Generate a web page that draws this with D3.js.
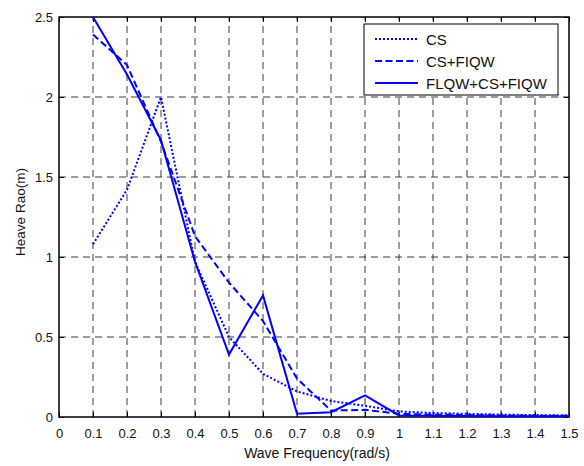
<!DOCTYPE html>
<html><head><meta charset="utf-8">
<script src="https://cdn.jsdelivr.net/npm/d3@7"></script>
<style>body{margin:0;background:#fff}svg{display:block}text{font-family:"Liberation Sans",Arial,sans-serif;}</style>
</head><body>
<script>
const freq = [0.1,0.2,0.3,0.4,0.5,0.6,0.7,0.8,0.9,1.0,1.1,1.2,1.3,1.4,1.5];
const csVals = [1.08,1.42,2.0,0.97,0.5,0.27,0.16,0.1,0.07,0.035,0.025,0.02,0.015,0.012,0.01];
const csFiqwVals = [2.39,2.2,1.72,1.13,0.84,0.6,0.24,0.04,0.045,0.02,0.015,0.012,0.01,0.008,0.007];
const flqwVals = [2.5,2.14,1.73,0.97,0.39,0.76,0.02,0.03,0.135,0.01,0.008,0.006,0.005,0.004,0.004];
const seriesNames = ["CS","CS+FIQW","FLQW+CS+FIQW"];
const xTicks = [0,0.1,0.2,0.3,0.4,0.5,0.6,0.7,0.8,0.9,1,1.1,1.2,1.3,1.4,1.5];
const yTicks = [0,0.5,1,1.5,2,2.5];

const W=584,H=466;
const L=59,R=569,T=17,B=417;
const svg=d3.select("body").append("svg").attr("width",W).attr("height",H);
const x=d3.scaleLinear().domain([0,1.5]).range([L,R]);
const y=d3.scaleLinear().domain([0,2.5]).range([B,T]);

// grid
const g=svg.append("g");
g.selectAll(".vg").data(xTicks.filter(d=>d>0&&d<1.5)).enter().append("line")
 .attr("x1",d=>x(d)).attr("x2",d=>x(d)).attr("y1",B).attr("y2",T)
 .attr("stroke","#3a3a3a").attr("stroke-width",1).attr("stroke-dasharray","7,5");
g.selectAll(".hg").data(yTicks.filter(d=>d>0&&d<2.5)).enter().append("line")
 .attr("x1",L).attr("x2",R).attr("y1",d=>y(d)).attr("y2",d=>y(d))
 .attr("stroke","#3a3a3a").attr("stroke-width",1).attr("stroke-dasharray","7,5");

// axes
const ax=svg.append("g").attr("transform",`translate(0,${B})`)
 .call(d3.axisBottom(x).tickValues(xTicks).tickFormat(d3.format("")).tickSizeInner(-5).tickSizeOuter(0).tickPadding(12));
const ay=svg.append("g").attr("transform",`translate(${L},0)`)
 .call(d3.axisLeft(y).tickValues(yTicks).tickFormat(d3.format("")).tickSizeInner(-5).tickSizeOuter(0).tickPadding(6));
const axT=svg.append("g").attr("transform",`translate(0,${T})`)
 .call(d3.axisTop(x).tickValues(xTicks).tickFormat("").tickSizeInner(-5).tickSizeOuter(0));
const ayR=svg.append("g").attr("transform",`translate(${R},0)`)
 .call(d3.axisRight(y).tickValues(yTicks).tickFormat("").tickSizeInner(-5).tickSizeOuter(0));
[ax,ay,axT,ayR].forEach(a=>{a.select(".domain").remove();a.selectAll("line").attr("stroke","#000");
 a.selectAll("text").attr("font-size",13).attr("fill","#111").attr("font-family","'Liberation Sans',Arial,sans-serif");});

// frame
svg.append("rect").attr("x",L).attr("y",T).attr("width",R-L).attr("height",B-T)
 .attr("fill","none").attr("stroke","#000").attr("stroke-width",1.5);

// series
const styles=[{dash:"2,2"},{dash:"7,3.5"},{dash:null}];
const data=[csVals,csFiqwVals,flqwVals];
const line=d3.line().x((d,i)=>x(freq[i])).y(d=>y(d));
data.forEach((vals,k)=>{
 svg.append("path").datum(vals).attr("d",line).attr("fill","none")
  .attr("stroke","#0000ff").attr("stroke-width",2)
  .attr("stroke-dasharray",styles[k].dash);
});

// legend
const lg=svg.append("g");
lg.append("rect").attr("x",364).attr("y",24).attr("width",194).attr("height",71)
 .attr("fill","#fff").attr("stroke","#000").attr("stroke-width",1);
seriesNames.forEach((n,k)=>{
 const yy=[39,61,83][k];
 lg.append("line").attr("x1",375).attr("x2",418).attr("y1",yy).attr("y2",yy)
  .attr("stroke","#0000ff").attr("stroke-width",2).attr("stroke-dasharray",styles[k].dash);
 lg.append("text").attr("x",426).attr("y",yy+5.5).attr("font-size",15).attr("fill","#111").text(n);
});

// axis labels
svg.append("text").attr("x",317).attr("y",458).attr("text-anchor","middle").attr("font-size",14).attr("fill","#111").text("Wave Frequency(rad/s)");
svg.append("text").attr("transform",`translate(25,212) rotate(-90)`).attr("text-anchor","middle").attr("font-size",13.5).attr("fill","#111").text("Heave Rao(m)");
</script>
</body></html>
